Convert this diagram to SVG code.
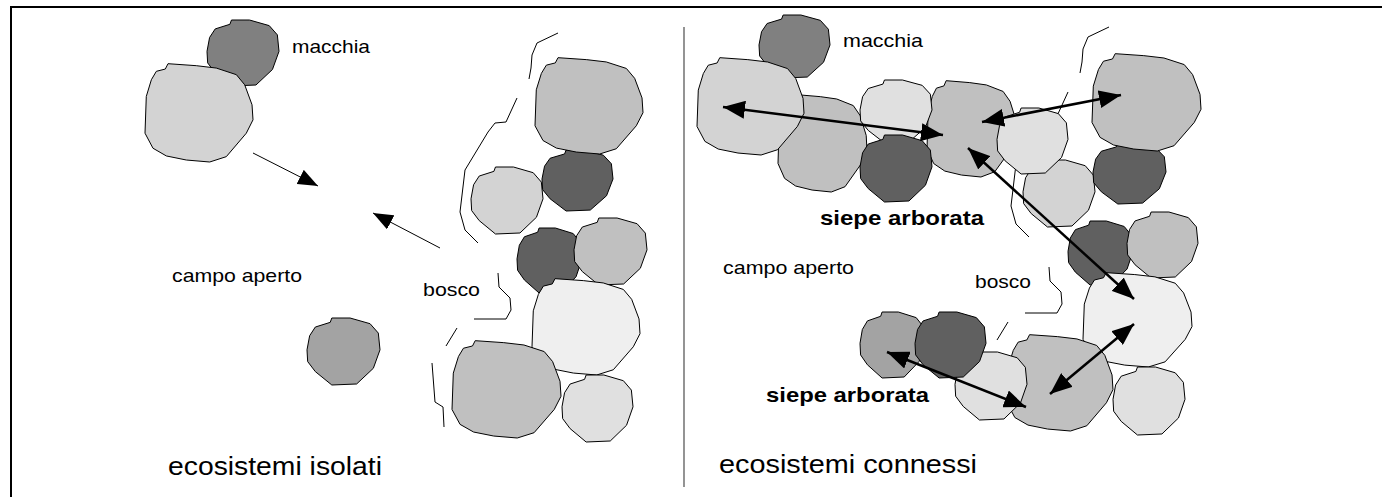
<svg xmlns="http://www.w3.org/2000/svg" xmlns:xlink="http://www.w3.org/1999/xlink" width="1382" height="497" viewBox="0 0 1382 497">
<style>
.blob{stroke:#000;stroke-width:1}
.edge{fill:none;stroke:#000;stroke-width:1;stroke-linejoin:round}
.thin{fill:none;stroke:#000;stroke-width:1}
.thick{fill:none;stroke:#000;stroke-width:2.5}
.lbl{font-family:"Liberation Sans",Arial,sans-serif;font-size:19px;fill:#000}
.big{font-family:"Liberation Sans",Arial,sans-serif;font-size:26px;fill:#000}
.bold{font-family:"Liberation Sans",Arial,sans-serif;font-size:21px;font-weight:bold;fill:#000}
.c1{fill:#808080}.c2{fill:#d3d3d3}.c3{fill:#a3a3a3}.c4{fill:#c0c0c0}.c5{fill:#606060}.c6{fill:#efefef}.c7{fill:#e0e0e0}
</style>
<defs>
<path id="A" vector-effect="non-scaling-stroke" d="M21.3,0.7 L18.8,6.1 10.5,8.4 5.9,16.9 1.2,33.8 0,70.9 7.4,86.1 19.8,93.9 38.3,98 59.9,100 75.3,94.6 93.8,70.9 100,57.4 99.1,42.2 92.3,22 84.6,11.8 66,5.1 47.5,2.7 Z"/>
<path id="B" vector-effect="non-scaling-stroke" d="M34,0 L31.8,6.5 11.4,13.5 3.6,26.5 0,47.5 0.9,65 11.4,80 34,100 68,98.5 90.9,75 100,47.5 97.7,22.5 86.4,8.5 59,0 Z"/>
<marker id="hs" markerUnits="userSpaceOnUse" markerWidth="20" markerHeight="16" refX="20" refY="8" orient="auto"><path d="M0,0 L20,8 L0,16 Z" fill="#000"/></marker>
<marker id="hb" markerUnits="userSpaceOnUse" markerWidth="22" markerHeight="18" refX="22" refY="9" orient="auto-start-reverse"><path d="M0,0 L22,9 L0,18 Z" fill="#000"/></marker>
</defs>
<rect x="11" y="7" width="1400" height="520" fill="#fff" stroke="#000" stroke-width="2"/>
<line x1="684" y1="27" x2="684" y2="487" stroke="#666" stroke-width="1.4"/>

<g id="edges-left">
<polyline class="edge" points="558,33 537,43 532,55 531,68 529,79"/>
<polyline class="edge" points="517,98 506,122 495,123 488,132 465,170 460,212 465,230 478,243"/>
<polyline class="edge" points="498,273 499,287 510,298 511,310 506,319 474,319"/>
<polyline class="edge" points="457,328 446,346"/>
<polyline class="edge" points="432,363 435,402 443,407 444,427"/>
</g>
<g id="edges-right">
<polyline class="edge" points="1109,27 1088,37 1083,49 1082,62 1080,73"/>
<polyline class="edge" points="1068,92 1057,116 1046,117 1039,126 1016,164 1011,206 1016,224 1029,237"/>
<polyline class="edge" points="1049,267 1050,281 1061,292 1062,304 1057,313 1025,313"/>
<polyline class="edge" points="1008,322 997,340"/>
</g>

<g id="L1"><use href="#B" class="blob c1" transform="translate(207,20) scale(0.72,0.66)"/></g>
<g id="L2"><use href="#A" class="blob c2" transform="translate(145,63) scale(1.08,0.99)"/></g>
<g id="L3"><use href="#B" class="blob c3" transform="translate(307,318) scale(0.73,0.67)"/></g>
<g id="L5"><use href="#B" class="blob c5" transform="translate(542,150) scale(0.71,0.61)"/></g>
<g id="L4"><use href="#A" class="blob c4" transform="translate(535,57) scale(1.08,0.97)"/></g>
<g id="L6"><use href="#B" class="blob c2" transform="translate(471,167) scale(0.72,0.67)"/></g>
<g id="L7"><use href="#B" class="blob c5" transform="translate(517,228) scale(0.65,0.65)"/></g>
<g id="L8"><use href="#B" class="blob c4" transform="translate(574,218) scale(0.73,0.67)"/></g>
<g id="L9"><use href="#A" class="blob c6" transform="translate(532,278) scale(1.08,0.97)"/></g>
<g id="L10"><use href="#A" class="blob c4" transform="translate(452,340) scale(1.09,0.98)"/></g>
<g id="L11"><use href="#B" class="blob c7" transform="translate(562,375) scale(0.71,0.67)"/></g>

<g id="R1"><use href="#B" class="blob c1" transform="translate(759,15) scale(0.71,0.63)"/></g>
<g id="R3"><use href="#A" class="blob c4" transform="translate(778,94) scale(0.89,0.98)"/></g>
<g id="R2"><use href="#A" class="blob c2" transform="translate(697,57) scale(1.07,0.98)"/></g>
<g id="R6"><use href="#A" class="blob c4" transform="translate(927,80) scale(0.90,0.97)"/></g>
<g id="R4"><use href="#B" class="blob c7" transform="translate(860,80) scale(0.72,0.63)"/></g>
<g id="R5"><use href="#B" class="blob c5" transform="translate(860,135) scale(0.72,0.67)"/></g>
<g id="R8"><use href="#B" class="blob c2" transform="translate(1023,160) scale(0.72,0.67)"/></g>
<g id="R7"><use href="#B" class="blob c7" transform="translate(997,108) scale(0.71,0.66)"/></g>
<g id="R10"><use href="#B" class="blob c5" transform="translate(1093,143) scale(0.73,0.61)"/></g>
<g id="R9"><use href="#A" class="blob c4" transform="translate(1092,53) scale(1.09,0.98)"/></g>
<g id="R11"><use href="#B" class="blob c5" transform="translate(1068,221) scale(0.65,0.64)"/></g>
<g id="R12"><use href="#B" class="blob c4" transform="translate(1127,212) scale(0.71,0.66)"/></g>
<g id="R13"><use href="#A" class="blob c6" transform="translate(1083,272) scale(1.09,0.95)"/></g>
<g id="R14"><use href="#A" class="blob c4" transform="translate(1007,334) scale(1.06,0.97)"/></g>
<g id="R15"><use href="#B" class="blob c7" transform="translate(1113,367) scale(0.72,0.68)"/></g>
<g id="R16"><use href="#B" class="blob c7" transform="translate(955,352) scale(0.72,0.68)"/></g>
<g id="R17"><use href="#B" class="blob c3" transform="translate(860,312) scale(0.65,0.66)"/></g>
<g id="R18"><use href="#B" class="blob c5" transform="translate(915,312) scale(0.71,0.66)"/></g>

<g id="connectors">
<line class="thin" x1="253" y1="153" x2="318" y2="186" marker-end="url(#hs)"/>
<line class="thin" x1="440" y1="248" x2="373" y2="213" marker-end="url(#hs)"/>
<line class="thick" x1="723" y1="107" x2="943" y2="135" marker-start="url(#hb)" marker-end="url(#hb)"/>
<line class="thick" x1="982" y1="122" x2="1121" y2="95" marker-start="url(#hb)" marker-end="url(#hb)"/>
<line class="thick" x1="968" y1="148" x2="1134" y2="299" marker-start="url(#hb)" marker-end="url(#hb)"/>
<line class="thick" x1="1134" y1="324" x2="1050" y2="394" marker-start="url(#hb)" marker-end="url(#hb)"/>
<line class="thick" x1="887" y1="352" x2="1026" y2="407" marker-start="url(#hb)" marker-end="url(#hb)"/>
</g>

<g id="labels">
<text class="lbl" x="292" y="53" textLength="78" lengthAdjust="spacingAndGlyphs">macchia</text>
<text class="lbl" x="172" y="282" textLength="130" lengthAdjust="spacingAndGlyphs">campo aperto</text>
<text class="lbl" x="423" y="296" textLength="57" lengthAdjust="spacingAndGlyphs">bosco</text>
<text class="big" x="168" y="475" textLength="214" lengthAdjust="spacingAndGlyphs">ecosistemi isolati</text>
<text class="lbl" x="843" y="47" textLength="80" lengthAdjust="spacingAndGlyphs">macchia</text>
<text class="bold" x="820" y="225" textLength="164" lengthAdjust="spacingAndGlyphs">siepe arborata</text>
<text class="lbl" x="723" y="274" textLength="131" lengthAdjust="spacingAndGlyphs">campo aperto</text>
<text class="lbl" x="975" y="288" textLength="56" lengthAdjust="spacingAndGlyphs">bosco</text>
<text class="bold" x="766" y="402" textLength="163" lengthAdjust="spacingAndGlyphs">siepe arborata</text>
<text class="big" x="719" y="473" textLength="258" lengthAdjust="spacingAndGlyphs">ecosistemi connessi</text>
</g>
</svg>
